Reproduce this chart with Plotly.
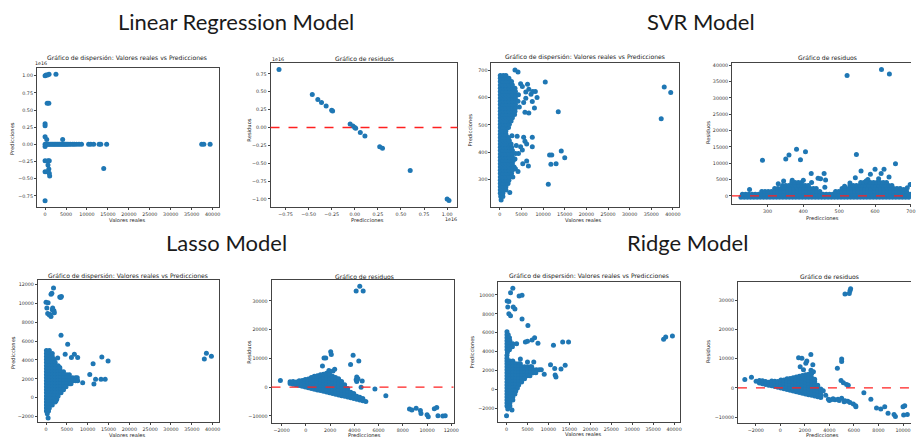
import plotly.graph_objects as go

W, H = 916, 437
BLUE = "#1f77b4"

# ---------------- tick values ----------------
real_ticks = [0, 5000, 10000, 15000, 20000, 25000, 30000, 35000, 40000]
lr_pred_ticks = [-0.75, -0.5, -0.25, 0.0, 0.25, 0.5, 0.75, 1.0]
lr_resid_ticks = [-1.0, -0.75, -0.5, -0.25, 0.0, 0.25, 0.5, 0.75]
svr_pred_ticks = [300, 400, 500, 600, 700]
svr_resid_ticks = [0, 5000, 10000, 15000, 20000, 25000, 30000, 35000, 40000]
lasso_pred_ticks = [-2000, 0, 2000, 4000, 6000, 8000, 10000, 12000]
lasso_resid_ticks = [-10000, 0, 10000, 20000, 30000]
ridge_pred_ticks = [-2000, 0, 2000, 4000, 6000, 8000, 10000]
ridge_resid_ticks = [-10000, 0, 10000, 20000, 30000]

# ---------------- Linear Regression (values in units of 1e16) ----------------
lr_scatter = [
    (0, 1.00), (250, 1.01), (600, 1.01), (950, 1.02), (2600, 1.02),
    (500, 0.60), (900, 0.60), (0, 0.30), (0, 0.27), (0, 0.11), (400, 0.07), (4200, 0.07),
    (0, -0.03), (0, -0.24), (700, -0.24), (1000, -0.24), (700, -0.30), (900, -0.36),
    (0, -0.40), (500, -0.40), (1000, -0.42), (1100, -0.46), (14000, -0.35), (0, -0.82),
    (0, 0), (250, 0), (500, 0), (800, 0), (1100, 0), (1400, 0), (1700, 0), (2000, 0),
    (2300, 0), (2600, 0), (2900, 0), (3200, 0), (3500, 0), (3800, 0), (4100, 0), (4400, 0),
    (4700, 0), (5000, 0), (5300, 0), (5700, 0), (6100, 0), (6600, 0), (7000, 0), (7500, 0),
    (8100, 0), (8700, 0), (10400, 0), (10900, 0), (11600, 0), (12900, 0), (13300, 0),
    (14700, 0), (37400, 0), (37900, 0), (39400, 0),
]
lr_resid = [
    (-0.82, 0.81), (-0.46, 0.46), (-0.40, 0.39), (-0.36, 0.35), (-0.31, 0.30), (-0.25, 0.24),
    (-0.24, 0.23), (-0.05, 0.05), (-0.02, 0.02), (0.0, 0.0), (0.01, -0.01), (0.06, -0.07),
    (0.11, -0.12), (0.27, -0.27), (0.30, -0.29), (0.60, -0.60), (1.00, -1.00), (1.02, -1.02),
]

# ---------------- SVR ----------------
# dense cloud: (prediction, [real values]) rows
svr_cloud_rows = [
    (226, [300]), (238, [200, 700]), (250, [100, 700]), (262, [100, 800, 1400]),
    (274, [100, 800, 1400]), (286, [100, 800, 1500, 1900]), (298, [100, 800, 1500, 2100]),
    (310, [100, 800, 1500, 2200]), (322, [100, 800, 1500, 2200, 2700]),
    (334, [100, 800, 1500, 2200, 2900]), (346, [100, 800, 1500, 2200, 2900, 3300]),
    (358, [100, 800, 1500, 2200, 2900]), (370, [100, 800, 1500, 2200, 2900, 3100]),
    (382, [100, 800, 1500, 2200, 2900]), (394, [100, 800, 1500, 2200, 2800]),
    (406, [100, 800, 1500, 2200, 2900]), (418, [100, 800, 1500, 2200, 2700]),
    (430, [100, 800, 1500, 2200, 2600]), (442, [100, 800, 1500, 2200]),
    (454, [100, 800, 1500, 2000]), (466, [100, 800, 1400]), (478, [100, 800, 1400]),
    (490, [100, 800, 1500, 2000]), (502, [100, 800, 1500, 2200]),
    (514, [100, 800, 1500, 2200, 2600]), (526, [100, 800, 1500, 2200, 2900]),
    (538, [100, 800, 1500, 2200, 2900, 3400]), (550, [100, 800, 1500, 2200, 2900, 3500]),
    (562, [100, 800, 1500, 2200, 2900, 3600]), (574, [100, 800, 1500, 2200, 2900, 3600]),
    (586, [100, 800, 1500, 2200, 2900, 3600, 4200]), (598, [100, 800, 1500, 2200, 2900, 3600]),
    (610, [100, 800, 1500, 2200, 2900, 3600, 4300]), (622, [100, 800, 1500, 2200, 2900, 3600]),
    (634, [100, 800, 1500, 2200, 2900, 3500]), (646, [100, 800, 1500, 2200, 2900]),
    (658, [100, 800, 1500, 2200, 2700]), (670, [100, 800, 1500, 2100]),
    (680, [100, 800, 1400]),
]
svr_outliers = [
    (3500, 700), (4200, 693), (4800, 650), (5200, 640), (6000, 620), (6400, 648), (6700, 630),
    (7200, 612), (7600, 622), (8200, 622), (8600, 600), (7500, 585), (6000, 597), (5500, 582),
    (8000, 562), (4500, 565), (5800, 546), (6700, 543), (10500, 657), (13500, 548),
    (37300, 522), (38000, 638), (39500, 618),
    (4000, 458), (5500, 455), (7500, 455), (5800, 440), (6200, 430), (3800, 425), (4800, 420),
    (7500, 420), (5200, 408), (4300, 395), (6200, 368), (5300, 358), (6600, 350), (3600, 340),
    (4200, 330), (3000, 310), (11500, 390), (12000, 390), (14200, 405), (15000, 380),
    (11800, 356), (13000, 358), (11200, 283), (2300, 253), (3500, 375), (3600, 395), (2800, 460),
]
# residual cloud: (residual, [prediction values]) rows
svr_resid_rows = [
    (-400, [226, 235, 244, 253, 262, 271, 280, 289, 298, 307, 316, 325, 334, 343, 352, 361, 370,
            379, 388, 397, 406, 415, 424, 433, 442, 451, 460, 469, 478, 487, 496, 505, 514, 523,
            532, 541, 550, 559, 568, 577, 586, 595, 604, 613, 622, 631, 640, 649, 658, 667, 676,
            685, 694]),
    (500, [230, 239, 248, 257, 266, 275, 284, 293, 302, 311, 320, 329, 338, 347, 356, 365, 374,
           383, 392, 401, 410, 419, 428, 437, 446, 455, 464, 473, 482, 491, 500, 509, 518, 527,
           536, 545, 554, 563, 572, 581, 590, 599, 608, 617, 626, 635, 644, 653, 662, 671, 680,
           689, 698]),
    (1400, [284, 293, 302, 311, 320, 329, 338, 347, 356, 365, 374, 383, 392, 401, 410, 419, 428,
            437, 446, 490, 499, 508, 517, 526, 535, 544, 553, 562, 571, 580, 589, 598, 607, 616,
            625, 634, 643, 652, 661, 670, 679, 688]),
    (2300, [320, 329, 338, 347, 356, 365, 374, 383, 392, 401, 410, 419, 428, 436, 508, 517, 526,
            535, 544, 553, 562, 571, 580, 589, 598, 607, 616, 625, 634, 643, 652, 661, 670]),
    (3200, [342, 351, 360, 369, 378, 387, 396, 405, 414, 530, 539, 548, 557, 566, 575, 584, 593,
            602, 611, 620, 629, 638, 647]),
    (4100, [368, 377, 386, 395, 560, 569, 578, 587, 596, 605, 614, 623, 632]),
]
svr_resid_outliers = [
    (250, 2000), (345, 4600), (369, 4800), (423, 4100), (441, 5400), (448, 5300), (462, 4900),
    (458, 6900), (460, 2700), (422, 6900), (330, 3700), (400, 4800), (515, 3000), (530, 4000),
    (545, 5600), (561, 7650), (587, 6630), (600, 8160), (617, 6840), (625, 8160), (639, 5800),
    (610, 5300), (580, 5000), (657, 9850), (680, 2000), (698, 3500), (690, 2500),
    (286, 10900), (351, 11300), (360, 12550), (381, 14300), (392, 11100), (406, 13500),
    (522, 36800), (548, 12700), (618, 38700), (640, 37300), (575, 4600),
]

# ---------------- Lasso ----------------
lasso_cloud_rows = [
    (5000, [100, 800]), (4680, [100, 800, 1500]), (4360, [100, 800, 1500]),
    (4040, [100, 800, 1500, 2000]), (3720, [100, 800, 1500, 2200]),
    (3400, [100, 800, 1500, 2200, 2900]), (3080, [100, 800, 1500, 2200, 2900, 3300]),
    (2760, [100, 800, 1500, 2200, 2900, 3600, 4200]),
    (2440, [100, 800, 1500, 2200, 2900, 3600, 4300, 5000, 5600]),
    (2120, [100, 800, 1500, 2200, 2900, 3600, 4300, 5000, 5700, 6400, 7100, 7500]),
    (1800, [100, 800, 1500, 2200, 2900, 3600, 4300, 5000, 5700, 6400, 7100, 7600]),
    (1480, [100, 800, 1500, 2200, 2900, 3600, 4300, 5000, 5700, 6000]),
    (1160, [100, 800, 1500, 2200, 2900, 3600, 4300, 4800]),
    (840, [100, 800, 1500, 2200, 2900, 3600, 4200]), (520, [100, 800, 1500, 2200, 2900, 3600]),
    (200, [100, 800, 1500, 2200, 2900]), (-120, [100, 800, 1500, 2200, 2600]),
    (-440, [100, 800, 1500, 2200]), (-760, [100, 800, 1500]), (-1080, [100, 800]),
    (-1400, [100, 600]),
]
lasso_outliers = [
    (8800, 1600), (10500, 2450), (11500, 1450), (11900, 1950), (13200, 1950), (14200, 1950),
    (11300, 3600), (13400, 4300), (14900, 3900), (6800, 4600), (6100, 4250), (7600, 4250),
    (4600, 4600), (5200, 5650), (3600, 6600), (2400, -300), (300, -1700), (500, -2150),
    (38000, 4100), (38500, 4700), (39700, 4400), (3300, 3200), (2800, 4200),
    (1800, 11600), (1200, 10950), (1400, 11050), (3300, 10650), (3700, 10700), (3500, 10600),
    (0, 10100), (500, 10050), (200, 9500), (1600, 9500), (1500, 9300), (1900, 9200), (2000, 9000),
    (400, 8900), (800, 8750), (1200, 8600), (1000, 8800),
]
# residual cloud: (prediction, [residual values]) columns
lasso_resid_cols = [
    (-1300, [1300, 1900]), (-1050, [1050, 2000]), (-800, [800, 1800]), (-550, [550, 1600, 2200]),
    (-300, [300, 1300, 2300]), (-50, [50, 1100, 2100, 2700]), (200, [-200, 800, 1800, 2800]),
    (450, [-450, 600, 1600, 2600, 3400]), (700, [-700, 300, 1300, 2300, 3300, 3800]),
    (950, [-950, 50, 1050, 2050, 3050, 4000]), (1200, [-1200, -200, 800, 1800, 2800, 3800, 4300]),
    (1450, [-1450, -450, 550, 1550, 2550, 3550, 4500]),
    (1700, [-1700, -700, 300, 1300, 2300, 3300, 4300, 4800]),
    (1950, [-1950, -950, 50, 1050, 2050, 3050, 4050, 4700]),
    (2200, [-2200, -1200, -200, 800, 1800, 2800, 3800]),
    (2450, [-2450, -1450, -450, 550, 1550, 2550, 3400]),
    (2700, [-2700, -1700, -700, 300, 1300, 2300, 2900]),
    (2950, [-2950, -1950, -950, 50, 1050, 2000]), (3200, [-3200, -2200, -1200, -200, 800]),
    (3450, [-3450, -2450, -1450, -500]), (3700, [-3700, -2700, -1800]),
    (3950, [-3950, -2950, -2200]), (4200, [-4200, -3200]), (4450, [-4450, -3500]),
    (4700, [-4700, -3900]), (4950, [-4950]),
]
lasso_resid_outliers = [
    (-2100, 2300), (4150, 33400), (4450, 35100), (4730, 33400), (1500, 10150), (1640, 10150),
    (2050, 12300), (2100, 11400), (1370, 7400), (2240, 5600), (2380, 6200), (1900, 5800),
    (3690, 7900), (3900, 11100), (4370, 9100), (4200, 3500), (4150, 2600), (4200, 2000),
    (4650, 2100), (4560, 0), (5700, -600), (6600, -3000), (8550, -7600), (8750, -7900),
    (9100, -7300), (9450, -8100), (9500, -9200), (10000, -9600), (10100, -10300), (10600, -7500),
    (10800, -7100), (10900, -9900), (11300, -10000), (11500, -9900), (4300, 2900),
]

# ---------------- Ridge ----------------
ridge_cloud_rows = [
    (6100, [100]), (5780, [100, 400]), (5460, [100, 700]), (5140, [100, 800]),
    (4820, [100, 800, 1500, 2400]), (4500, [100, 800, 1400]), (4180, [100, 700]),
    (3900, [200]), (3600, [100]), (3300, [100]), (3000, [100, 800, 1500]),
    (2700, [100, 800, 1500, 2200, 2900, 3300]),
    (2380, [100, 800, 1500, 2200, 2900, 3600, 4300, 5000, 5700, 6000]),
    (2060, [100, 800, 1500, 2200, 2900, 3600, 4300, 5000, 5700, 6400, 7100, 7800, 8300]),
    (1740, [100, 800, 1500, 2200, 2900, 3600, 4300, 5000, 5700, 6400, 7000]),
    (1420, [100, 800, 1500, 2200, 2900, 3600, 4300, 5000, 5600]),
    (1100, [100, 800, 1500, 2200, 2900, 3600, 4300]), (780, [100, 800, 1500, 2200, 2900, 3600]),
    (460, [100, 800, 1500, 2200, 2900]), (140, [100, 800, 1500, 2200, 2600]),
    (-180, [100, 800, 1500, 2200]), (-500, [100, 800, 1500, 2000]), (-820, [100, 800, 1500]),
    (-1140, [100, 800, 1500]), (-1460, [100, 800]), (-1780, [100, 800]), (-2100, [300]),
]
ridge_outliers = [
    (0, -2800), (1300, -2200), (4500, 5000), (5000, 5100), (6100, 5230), (6700, 5470),
    (7500, 4880), (11200, 4670), (13400, 5000), (14800, 5000), (3300, 3200), (5000, 2900),
    (6500, 2900), (9000, 1600), (10500, 2600), (11500, 2200), (11600, 1500), (11800, 1300),
    (13000, 2150), (14000, 2550), (3700, 7460), (5100, 6760), (150, 9370), (550, 9300),
    (300, 8710), (1600, 8710), (2000, 8500), (550, 8010), (950, 7800), (950, 10240),
    (1500, 10700), (3000, 9900), (3700, 9960), (37500, 5300), (38000, 5540), (39600, 5640),
]
ridge_resid_cols = [
    (-1700, [1700, 2500]), (-1450, [1450, 2450]), (-1200, [1200, 2200]), (-950, [950, 1950]),
    (-700, [700, 1700, 2400]), (-450, [450, 1450, 2300]), (-200, [200, 1200, 2200]),
    (50, [-50, 950, 1950, 2700]), (300, [-300, 700, 1700, 2700]),
    (550, [-550, 450, 1450, 2450, 3100]), (800, [-800, 200, 1200, 2200, 3200]),
    (1050, [-1050, -50, 950, 1950, 2950, 3500]), (1300, [-1300, -300, 700, 1700, 2700, 3700]),
    (1550, [-1550, -550, 450, 1450, 2450, 3450, 4000]),
    (1800, [-1800, -800, 200, 1200, 2200, 3200, 4200]),
    (2050, [-2050, -1050, -50, 950, 1950, 2950, 3950, 4500]),
    (2300, [-2300, -1300, -300, 700, 1700, 2700, 3700, 4700]),
    (2550, [-2550, -1550, -550, 450, 1450, 2450, 3450, 4800]),
    (2800, [-2800, -1800, -800, 200, 1200, 2200, 3000]),
    (3050, [-3050, -2050, -1050, -50, 950]), (3300, [-3300, -2300, -1300, -400]),
]
ridge_resid_outliers = [
    (-2890, 2850), (-2350, 3630), (-1970, 2290), (3920, -3850), (4200, -4000), (4460, -4080),
    (4700, -3900), (5000, -3520), (5270, -4410), (5500, -4600), (5680, -4970), (5950, -5530),
    (6140, -6090), (6160, -6400), (5000, 9890), (5000, 8990), (4650, 6760), (4950, 2510),
    (5140, 1730), (5400, 1170), (5540, 950), (5270, 32120), (5620, 32230), (5680, 33230),
    (5730, 33910), (1490, 10330), (1760, 10110), (1620, 7210), (2080, 8440), (2490, 11450),
    (2160, 9220), (1890, 6200), (2650, 7880), (2500, 6000), (2700, 5500), (3500, -1000),
    (3700, -2500), (6810, -1620), (7380, -3850), (7840, -6870), (8190, -7210), (8510, -6430),
    (8780, -8660), (9270, -9110), (9380, -9780), (10000, -6430), (10140, -6090), (10050, -9220),
    (10350, -9110), (4000, -4300), (4300, -3700), (4800, -4300), (5200, -4700),
]


def rows_to_pts(rows):
    # rows: (y, [x...])
    return [(x, y) for y, xs in rows for x in xs]


def cols_to_pts(cols):
    # cols: (x, [y...])
    return [(x, y) for x, ys in cols for y in ys]


svr_scatter = rows_to_pts(svr_cloud_rows) + svr_outliers
svr_resid = rows_to_pts(svr_resid_rows) + svr_resid_outliers
lasso_scatter = rows_to_pts(lasso_cloud_rows) + lasso_outliers
lasso_resid = cols_to_pts(lasso_resid_cols) + lasso_resid_outliers
ridge_scatter = rows_to_pts(ridge_cloud_rows) + ridge_outliers
ridge_resid = cols_to_pts(ridge_resid_cols) + ridge_resid_outliers


def fmt(v, d):
    s = f"{abs(v):.{d}f}"
    return ("\u2212" + s) if v < 0 else s


fig = go.Figure()

panels = [
    # pts, box(px: left, top, right, bottom), xrange, yrange, xticks, xdec, yticks, ydec, resid, open_right
    (lr_scatter, (37, 68, 220, 207), [-1975, 41475], [-0.912, 1.112], real_ticks, 0, lr_pred_ticks, 2, False, False),
    (lr_resid, (272, 63, 460, 207), [-0.912, 1.112], [-1.112, 0.902], lr_pred_ticks, 2, lr_resid_ticks, 2, True, False),
    (svr_scatter, (494, 63, 683, 207), [-1975, 41475], [200, 726], real_ticks, 0, svr_pred_ticks, 0, False, False),
    (svr_resid, (736, 63, 916, 204), [201, 700.3], [-2460, 40660], svr_pred_ticks, 0, svr_resid_ticks, 0, True, True),
    (lasso_scatter, (38, 280, 220, 422), [-1975, 41475], [-2560, 12455], real_ticks, 0, lasso_pred_ticks, 0, False, False),
    (lasso_resid, (273, 280, 456, 423), [-2833, 12183], [-12460, 37260], lasso_pred_ticks, 0, lasso_resid_ticks, 0, True, False),
    (ridge_scatter, (501, 282, 684, 422), [-1975, 41475], [-3475, 11375], real_ticks, 0, ridge_pred_ticks, 0, False, False),
    (ridge_resid, (742, 282, 916, 423), [-3450, 10650], [-11990, 36190], ridge_pred_ticks, 0, ridge_resid_ticks, 0, True, True),
]

TICKFONT = dict(family="DejaVu Sans", size=4.8, color="#333")
LINEC = "#444"
shapes = []
for i, (pts, box, xr, yr, xt, xd, yt, yd, resid, open_right) in enumerate(panels, start=1):
    sfx = "" if i == 1 else str(i)
    l, t, r, b = box
    fig.add_trace(go.Scatter(
        x=[p[0] for p in pts], y=[p[1] for p in pts], mode="markers",
        marker=dict(color=BLUE, size=5, line=dict(width=0)),
        xaxis="x" + sfx, yaxis="y" + sfx, showlegend=False, hoverinfo="skip"))
    fig.update_layout(**{
        "xaxis" + sfx: dict(domain=[l / W, r / W], range=xr, anchor="y" + sfx,
                            tickmode="array", tickvals=xt, ticktext=[fmt(v, xd) for v in xt],
                            showgrid=False, zeroline=False, showline=True, linecolor=LINEC,
                            linewidth=0.8, mirror=True, ticks="outside", ticklen=2,
                            tickwidth=0.6, tickcolor=LINEC, tickfont=TICKFONT, tickangle=0),
        "yaxis" + sfx: dict(domain=[1 - b / H, 1 - t / H], range=yr, anchor="x" + sfx,
                            tickmode="array", tickvals=yt, ticktext=[fmt(v, yd) for v in yt],
                            showgrid=False, zeroline=False, showline=True, linecolor=LINEC,
                            linewidth=0.8, mirror=not open_right, ticks="outside", ticklen=2,
                            tickwidth=0.6, tickcolor=LINEC, tickfont=TICKFONT),
    })
    if resid:
        shapes.append(dict(type="line", xref=("x" + sfx + " domain"), yref="y" + sfx,
                           x0=0, x1=1, y0=0, y1=0, layer="above",
                           line=dict(color="#ff2020", width=1.3, dash="dash")))

ann = []


def txt(x, y, s, size, angle=0, family="DejaVu Sans", color="#222", xanchor="center"):
    ann.append(dict(x=x / W, y=1 - y / H, xref="paper", yref="paper", text=s, showarrow=False,
                    font=dict(family=family, size=size, color=color), textangle=angle,
                    xanchor=xanchor, yanchor="middle"))


# big model titles
txt(237, 22, "Linear Regression Model", 22, family="Lato", color="#1a1a1a")
txt(705, 22, "SVR Model", 22, family="Lato", color="#1a1a1a")
txt(228, 242, "Lasso Model", 22, family="Lato", color="#1a1a1a")
txt(691, 242, "Ridge Model", 22, family="Lato", color="#1a1a1a")

disp = "Gráfico de dispersión: Valores reales vs Predicciones"
res = "Gráfico de residuos"
# subplot titles
txt(128, 58, disp, 6.1)
txt(367, 58, res, 6.1)
txt(588, 57, disp, 6.1)
txt(832, 57, res, 6.1)
txt(129, 276, disp, 6.1)
txt(366, 276, res, 6.1)
txt(592, 276, disp, 6.1)
txt(834, 276, res, 6.1)

# axis titles
txt(128, 220, "Valores reales", 5.2)
txt(12, 138, "Predicciones", 5.2, angle=-90)
txt(370, 220, "Predicciones", 5.2)
txt(250, 130, "Residuos", 5.2, angle=-90)
txt(587, 220, "Valores reales", 5.2)
txt(473, 130, "Predicciones", 5.2, angle=-90)
txt(827, 218, "Predicciones", 5.2)
txt(712, 133, "Residuos", 5.2, angle=-90)
txt(128, 435, "Valores reales", 5.2)
txt(13, 352, "Predicciones", 5.2, angle=-90)
txt(367, 435, "Predicciones", 5.2)
txt(250, 352, "Residuos", 5.2, angle=-90)
txt(587, 434, "Valores reales", 5.2)
txt(475, 352, "Predicciones", 5.2, angle=-90)
txt(827, 435, "Predicciones", 5.2)
txt(712, 352, "Residuos", 5.2, angle=-90)

# offset labels
txt(41, 64, "1e16", 4.8)
txt(280, 59, "1e16", 4.8)
txt(453, 219, "1e16", 4.8)

fig.update_layout(width=W, height=H, autosize=False, margin=dict(l=0, r=0, t=0, b=0),
                  paper_bgcolor="white", plot_bgcolor="white", annotations=ann, shapes=shapes)

fig.write_html("out.html")
